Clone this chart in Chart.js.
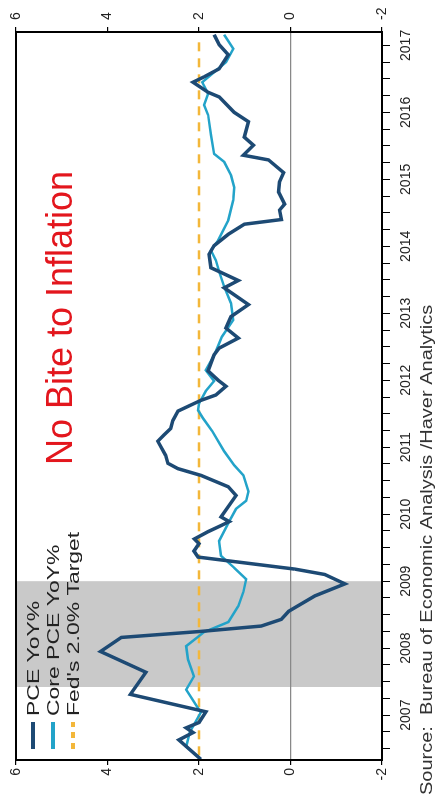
<!DOCTYPE html>
<html>
<head>
<meta charset="utf-8">
<script src="https://cdn.jsdelivr.net/npm/chart.js@4/dist/chart.umd.min.js"></script>
<style>
  html, body { margin: 0; padding: 0; background: #fff; overflow: hidden; }
  #wrap {
    position: absolute; left: 0; top: 0;
    width: 799px; height: 437px;
    transform-origin: 0 0;
    transform: translate(0px, 799px) rotate(-90deg);
  }
</style>
</head>
<body>
<div id="wrap"><canvas id="myChart" width="799" height="437"></canvas></div>
<script>
// PCE YoY% (headline)
const pceDates = [2006.84, 2007.13, 2007.24, 2007.31, 2007.39, 2007.55, 2007.81, 2008.14, 2008.45, 2008.66,
  2008.75, 2008.83, 2008.93, 2009.05, 2009.28, 2009.46, 2009.6, 2009.68, 2009.86, 2009.95,
  2010.06, 2010.13, 2010.24, 2010.33, 2010.39, 2010.46, 2010.78, 2010.91, 2011.08, 2011.18,
  2011.26, 2011.38, 2011.59, 2011.68, 2011.78, 2011.9, 2012.04, 2012.11, 2012.2, 2012.28,
  2012.41, 2012.5, 2012.64, 2012.88, 2012.98, 2013.13, 2013.28, 2013.45, 2013.63, 2013.88,
  2013.99, 2014.18, 2014.38, 2014.51, 2014.68, 2014.83, 2014.9, 2015.04, 2015.13, 2015.31,
  2015.46, 2015.6, 2015.79, 2015.86, 2016.01, 2016.13, 2016.36, 2016.5, 2016.73, 2016.8,
  2016.95, 2017.03, 2017.15, 2017.36, 2017.51, 2017.66]
const pceValues = [1.96, 2.44, 2.13, 2.28, 2.0, 1.85, 3.5, 3.16, 4.15, 3.7,
  1.96, 0.64, 0.2, 0.04, -0.53, -1.19, -0.75, -0.1, 2.02, 2.11,
  2.0, 2.1, 1.8, 1.52, 1.34, 1.52, 1.19, 1.36, 1.96, 2.46,
  2.68, 2.73, 2.9, 2.77, 2.62, 2.57, 2.46, 2.24, 1.96, 1.63,
  1.41, 1.58, 1.8, 1.67, 1.56, 1.14, 1.41, 1.3, 0.92, 1.45,
  1.14, 1.74, 1.78, 1.67, 1.36, 1.01, 0.2, 0.24, 0.13, 0.26,
  0.24, 0.15, 0.48, 1.03, 0.81, 1.01, 0.92, 1.23, 1.56, 1.8,
  2.13, 1.89, 1.56, 1.36, 1.56, 1.67]

// Core PCE YoY%
const coreDates = [2006.88, 2007.03, 2007.25, 2007.54, 2007.88, 2008.08, 2008.33, 2008.53, 2008.74, 2008.89,
  2009.13, 2009.34, 2009.53, 2009.7, 2009.88, 2010.1, 2010.39, 2010.58, 2010.7, 2010.84,
  2011.08, 2011.23, 2011.44, 2011.74, 2011.93, 2012.05, 2012.15, 2012.34, 2012.49, 2012.65,
  2012.9, 2013.15, 2013.4, 2013.65, 2013.9, 2014.1, 2014.29, 2014.44, 2014.59, 2014.89,
  2015.19, 2015.38, 2015.56, 2015.76, 2015.88, 2016.16, 2016.46, 2016.61, 2016.78, 2016.95,
  2017.06, 2017.25, 2017.45, 2017.66]
const coreValues = [2.02, 2.28, 2.2, 1.96, 2.28, 2.11, 2.24, 2.28, 1.89, 1.36,
  1.14, 1.03, 0.97, 1.23, 1.52, 1.56, 1.34, 1.19, 0.97, 0.92,
  1.03, 1.23, 1.45, 1.71, 1.91, 2.02, 2.0, 1.85, 1.67, 1.85,
  1.65, 1.5, 1.25, 1.3, 1.45, 1.55, 1.63, 1.74, 1.58, 1.36,
  1.25, 1.23, 1.3, 1.45, 1.67, 1.74, 1.8, 1.89, 1.8, 1.93,
  1.74, 1.41, 1.25, 1.45]

// Fed's 2.0% target
const targetDates = [2006.9, 2017.6]
const targetValues = [2, 2]

// recession (shaded)
const recessionStart = 2007.92
const recessionEnd = 2009.5

const yTickValues = [-2, 0, 2, 4, 6]
const yearLabels = ['2007', '2008', '2009', '2010', '2011', '2012', '2013', '2014', '2015', '2016', '2017']

const titleText = 'No Bite to Inflation'
const sourceText = 'Source:  Bureau of Economic Analysis /Haver Analytics'

const toPoints = (xs, ys) => xs.map((x, i) => ({ x: x, y: ys[i] }))

Chart.defaults.font.family = "'Liberation Sans', Arial, sans-serif"
Chart.defaults.color = '#222'

const ctx = document.getElementById('myChart').getContext('2d')

const data = {
  datasets: [
    {
      label: 'PCE YoY%',
      borderColor: '#1d4a74',
      borderWidth: 3.5,
      data: toPoints(pceDates, pceValues),
      pointRadius: 0,
      fill: false
    },
    {
      label: 'Core PCE YoY%',
      borderColor: '#23a3c9',
      borderWidth: 2.5,
      data: toPoints(coreDates, coreValues),
      pointRadius: 0,
      fill: false
    },
    {
      label: "Fed's 2.0% Target",
      borderColor: '#f3b73a',
      borderWidth: 2.5,
      borderDash: [9, 7],
      data: toPoints(targetDates, targetValues),
      pointRadius: 0,
      fill: false
    }
  ]
}

// shaded recession, drawn under the grid
const recessionShade = {
  id: 'recessionShade',
  beforeDraw(chart) {
    const { ctx, chartArea, scales } = chart
    const x0 = scales.x.getPixelForValue(recessionStart)
    const x1 = scales.x.getPixelForValue(recessionEnd)
    ctx.save()
    ctx.fillStyle = '#c9c9c9'
    ctx.fillRect(x0, chartArea.top, x1 - x0, chartArea.bottom - chartArea.top)
    ctx.restore()
  }
}

// frame, legend, note and source
const extras = {
  id: 'extras',
  afterDraw(chart) {
    const { ctx, chartArea } = chart
    ctx.save()
    ctx.strokeStyle = '#000'
    ctx.lineWidth = 2
    ctx.strokeRect(chartArea.left, chartArea.top, chartArea.right - chartArea.left, chartArea.bottom - chartArea.top)

    // legend
    ctx.textBaseline = 'middle'
    chart.data.datasets.forEach((ds, i) => {
      const y = 33 + i * 20
      ctx.strokeStyle = ds.borderColor
      ctx.lineWidth = 4
      ctx.setLineDash(ds.borderDash ? [6, 5] : [])
      ctx.beginPath()
      ctx.moveTo(50, y)
      ctx.lineTo(77, y)
      ctx.stroke()
      ctx.setLineDash([])
      ctx.save()
      ctx.translate(83, y)
      ctx.scale(1.35, 1)
      ctx.fillStyle = '#222'
      ctx.font = "17px 'Liberation Sans', Arial, sans-serif"
      ctx.fillText(ds.label, 0, 1)
      ctx.restore()
    })

    // note
    ctx.fillStyle = '#e3161d'
    ctx.font = "36px 'Liberation Sans', Arial, sans-serif"
    ctx.textAlign = 'center'
    ctx.fillText(titleText, 481, 62)

    // source
    ctx.save()
    ctx.translate(4, 428)
    ctx.scale(1.25, 1)
    ctx.textAlign = 'left'
    ctx.fillStyle = '#333'
    ctx.font = "16px 'Liberation Sans', Arial, sans-serif"
    ctx.fillText(sourceText, 0, 0)
    ctx.restore()
    ctx.restore()
  }
}

const yAxis = (position, width, pad) => ({
  type: 'linear',
  position: position,
  min: -2,
  max: 6,
  afterBuildTicks: (scale) => { scale.ticks = yTickValues.map(v => ({ value: v })) },
  afterFit: (scale) => { scale.width = width },
  border: { color: '#000', width: 2 },
  grid: {
    drawOnChartArea: position === 'left',
    color: (c) => (c.tick && c.tick.value === 0 ? '#888' : 'rgba(0,0,0,0)'),
    lineWidth: 1.2,
    tickColor: '#000',
    tickLength: 5
  },
  ticks: { padding: pad, font: { size: 14 }, color: '#222' }
})

const config = {
  type: 'line',
  data: data,
  plugins: [recessionShade, extras],
  options: {
    responsive: false,
    animation: false,
    devicePixelRatio: 1,
    layout: { padding: { top: 16, left: 0, right: 0, bottom: 0 } },
    plugins: { legend: { display: false }, tooltip: { enabled: false } },
    scales: {
      x: {
        type: 'linear',
        position: 'bottom',
        min: 2006.83,
        max: 2017.7,
        afterBuildTicks: (scale) => {
          const t = []
          for (let q = 2007; q <= 2017.5; q += 0.25) t.push({ value: q })
          scale.ticks = t
        },
        afterFit: (scale) => { scale.height = 55 },
        border: { color: '#000', width: 2 },
        grid: { drawOnChartArea: false, tickColor: '#000', tickLength: 8 },
        ticks: {
          autoSkip: false,
          maxRotation: 0,
          padding: 8,
          font: { size: 14 },
          color: '#222',
          callback: (v) => {
            const i = Math.round(v - 2007.5)
            return Math.abs(v - 2007.5 - i) < 0.01 ? yearLabels[i] : ''
          }
        }
      },
      y: yAxis('left', 39, 3),
      y2: yAxis('right', 32, 7)
    }
  }
}

const myChart = new Chart(ctx, config)
</script>
</body>
</html>
